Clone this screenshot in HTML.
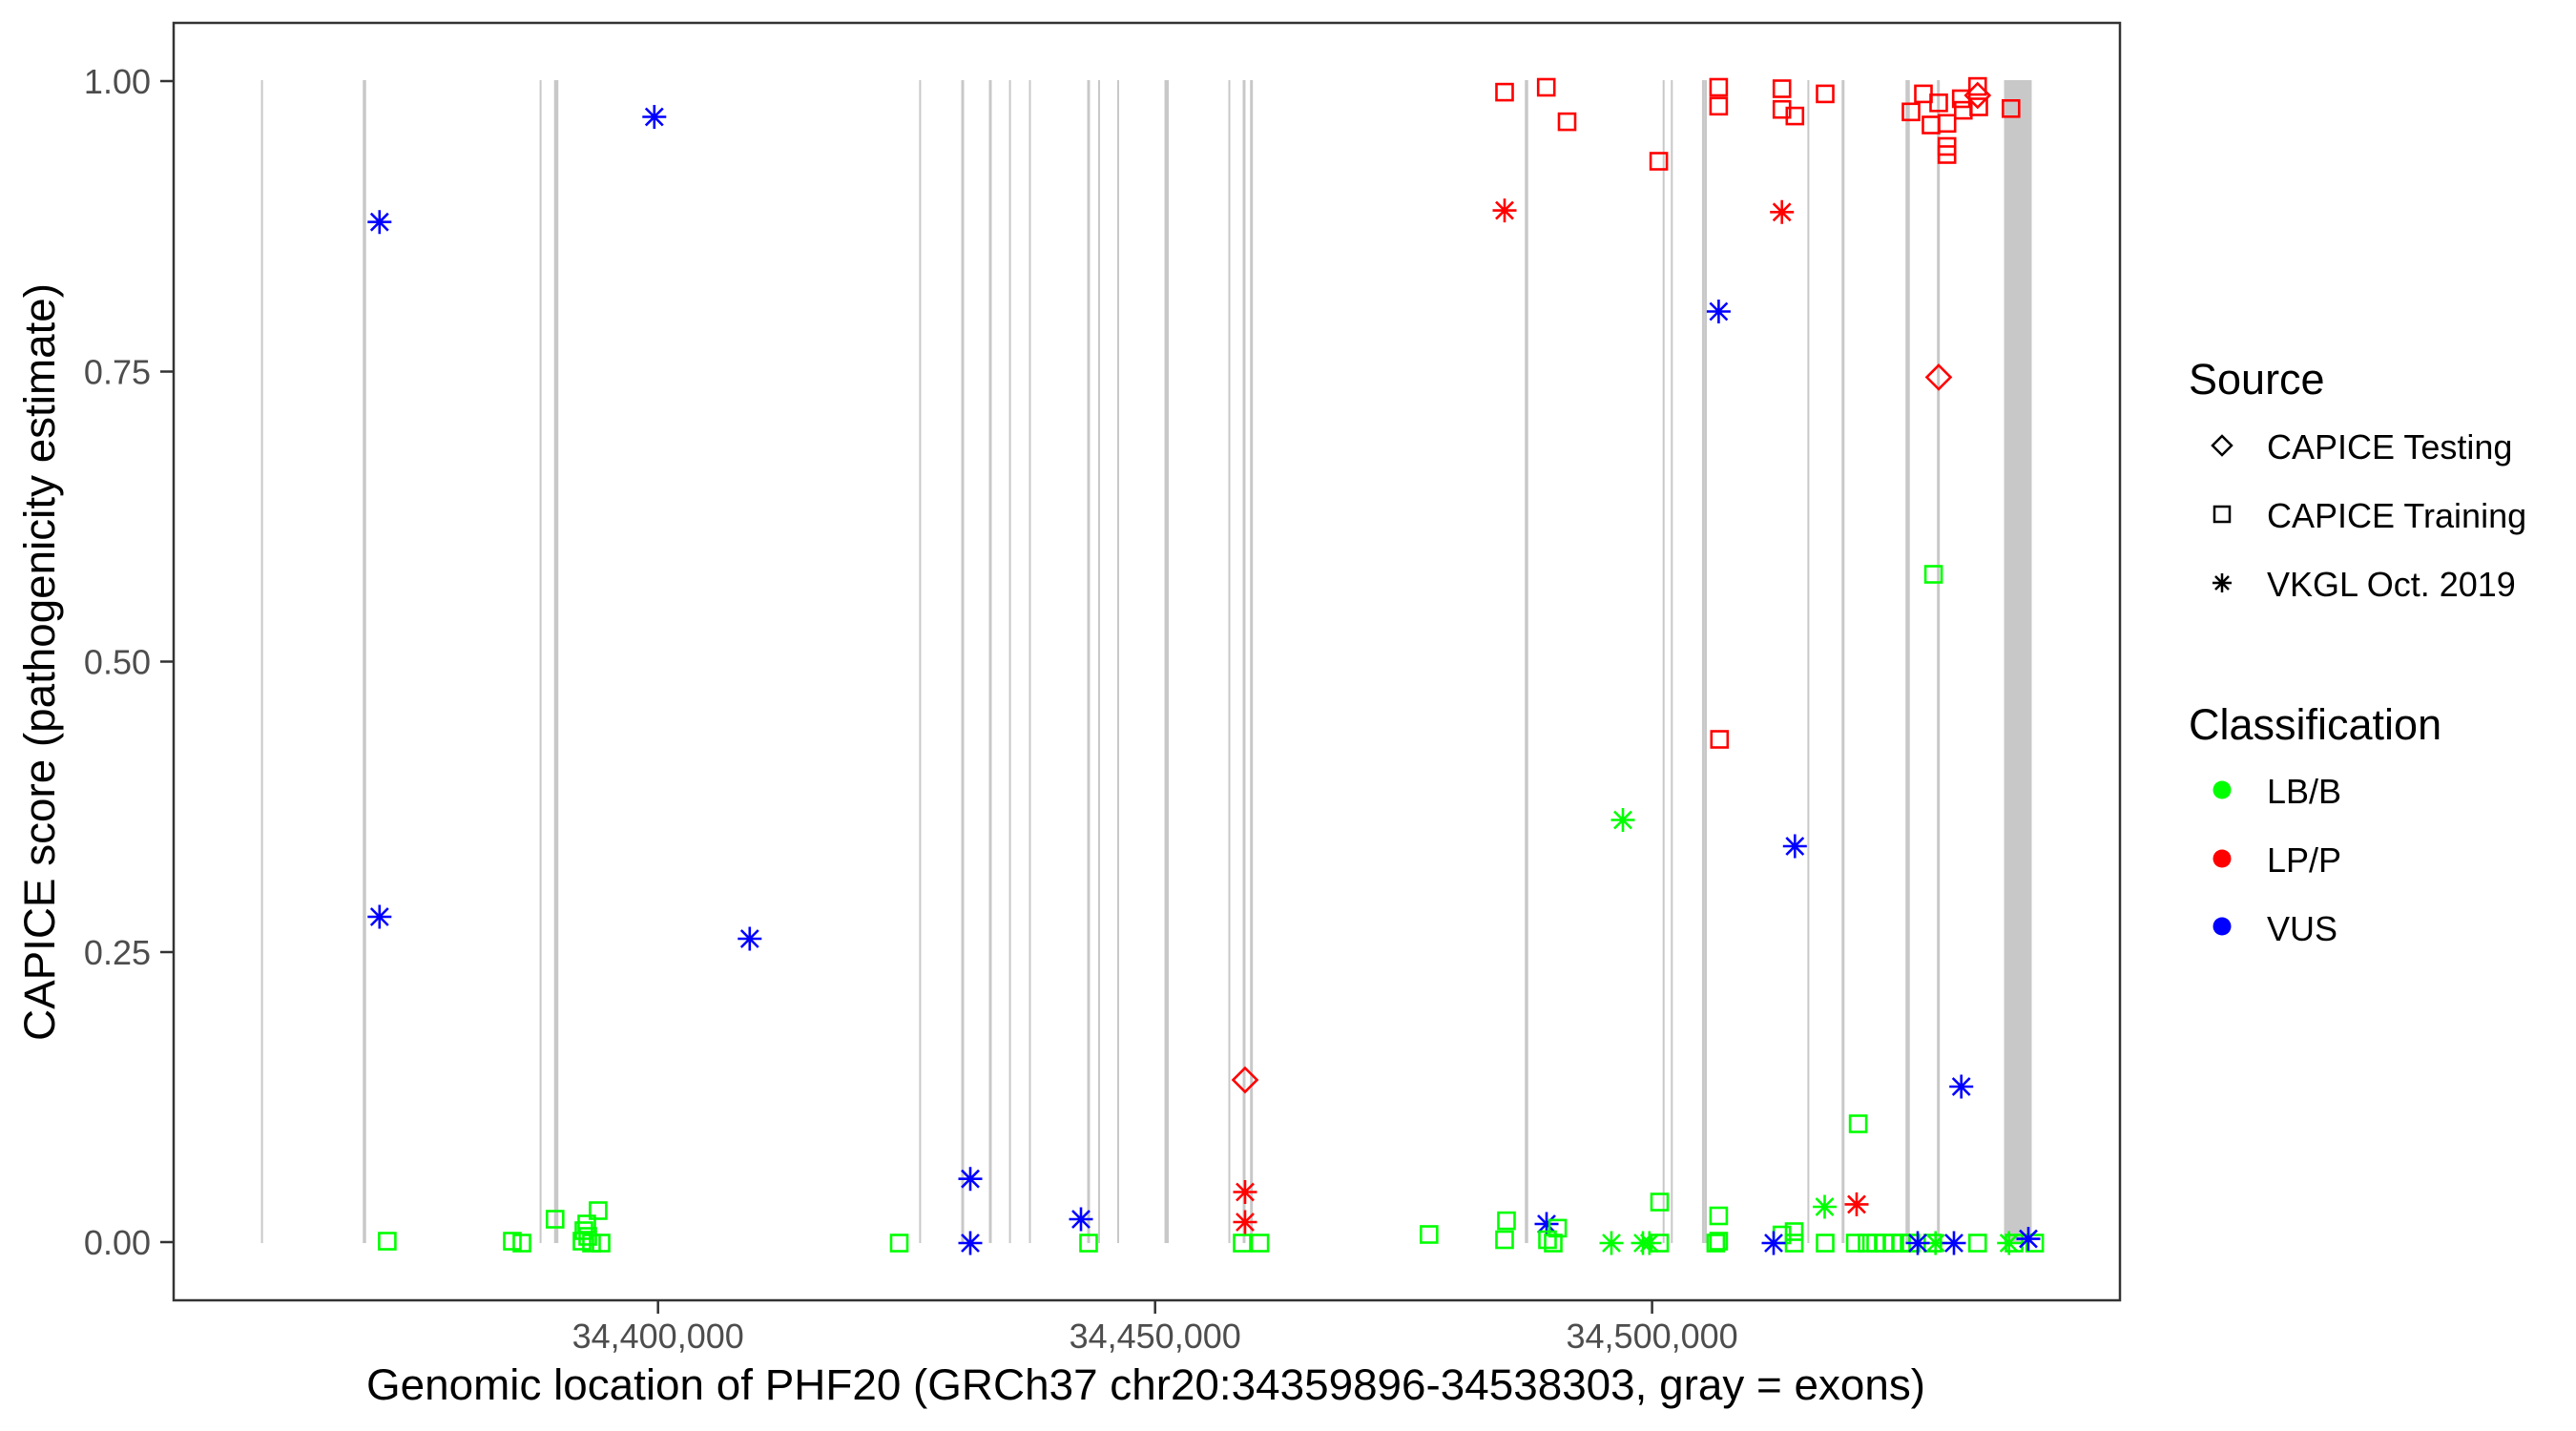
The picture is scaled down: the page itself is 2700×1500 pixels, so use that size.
<!DOCTYPE html>
<html><head><meta charset="utf-8"><style>
html,body{margin:0;padding:0;background:#fff;}
svg{display:block;font-family:"Liberation Sans",Arial,sans-serif;}
</style></head><body>
<svg width="2700" height="1500" viewBox="0 0 2700 1500" xmlns="http://www.w3.org/2000/svg">
<defs>
<rect id="sq" x="-8.5" y="-8.5" width="17" height="17" fill="none" stroke="currentColor" stroke-width="2.6"/>
<path id="st" d="M-12.5 0H12.5M0 -12.5V12.5M-9 -9L9 9M-9 9L9 -9" fill="none" stroke="currentColor" stroke-width="2.6"/>
<path id="dm" d="M0 -12.5L12.5 0L0 12.5L-12.5 0Z" fill="none" stroke="currentColor" stroke-width="2.6"/>
</defs>
<rect width="2700" height="1500" fill="#fff"/>
<g stroke="#c8c8c8" fill="none">
<line x1="274.6" y1="84" x2="274.6" y2="1303" stroke-width="2"/>
<line x1="382" y1="84" x2="382" y2="1303" stroke-width="3.5"/>
<line x1="566.6" y1="84" x2="566.6" y2="1303" stroke-width="2"/>
<line x1="583" y1="84" x2="583" y2="1303" stroke-width="4.5"/>
<line x1="964.4" y1="84" x2="964.4" y2="1303" stroke-width="2"/>
<line x1="1009" y1="84" x2="1009" y2="1303" stroke-width="3"/>
<line x1="1038" y1="84" x2="1038" y2="1303" stroke-width="3"/>
<line x1="1058.6" y1="84" x2="1058.6" y2="1303" stroke-width="2"/>
<line x1="1079.5" y1="84" x2="1079.5" y2="1303" stroke-width="2"/>
<line x1="1141" y1="84" x2="1141" y2="1303" stroke-width="3"/>
<line x1="1152" y1="84" x2="1152" y2="1303" stroke-width="2"/>
<line x1="1172" y1="84" x2="1172" y2="1303" stroke-width="2"/>
<line x1="1222.8" y1="84" x2="1222.8" y2="1303" stroke-width="4.5"/>
<line x1="1288.5" y1="84" x2="1288.5" y2="1303" stroke-width="2"/>
<line x1="1304" y1="84" x2="1304" y2="1303" stroke-width="3"/>
<line x1="1311.7" y1="84" x2="1311.7" y2="1303" stroke-width="3"/>
<line x1="1600" y1="84" x2="1600" y2="1303" stroke-width="3.5"/>
<line x1="1743.7" y1="84" x2="1743.7" y2="1303" stroke-width="2"/>
<line x1="1752.3" y1="84" x2="1752.3" y2="1303" stroke-width="2"/>
<line x1="1785.2" y1="84" x2="1785.2" y2="1303" stroke-width="2.5"/>
<line x1="1787.8" y1="84" x2="1787.8" y2="1303" stroke-width="2.5"/>
<line x1="1895.4" y1="84" x2="1895.4" y2="1303" stroke-width="2"/>
<line x1="1931.8" y1="84" x2="1931.8" y2="1303" stroke-width="3"/>
<line x1="1999.5" y1="84" x2="1999.5" y2="1303" stroke-width="4.5"/>
<line x1="2031.7" y1="84" x2="2031.7" y2="1303" stroke-width="3"/>
</g>
<rect x="2100.5" y="84" width="29" height="1219" fill="#c8c8c8"/>
<g color="#0000ff">
<use href="#st" x="397.8" y="232.7"/><use href="#st" x="397.8" y="961"/><use href="#st" x="685.8" y="122.5"/><use href="#st" x="785.8" y="984"/>
<use href="#st" x="1017" y="1235.7"/><use href="#st" x="1017" y="1303"/><use href="#st" x="1133" y="1278"/>
<use href="#st" x="1801.4" y="326.5"/><use href="#st" x="1881.3" y="887"/><use href="#st" x="2055.7" y="1139"/><use href="#st" x="1621" y="1283"/>
</g>
<g color="#00ff00">
<use href="#sq" x="405.9" y="1301"/><use href="#sq" x="537" y="1301"/><use href="#sq" x="547" y="1303"/><use href="#sq" x="581.8" y="1278"/>
<use href="#sq" x="626.9" y="1269"/><use href="#sq" x="615" y="1283"/><use href="#sq" x="612" y="1290"/><use href="#sq" x="610" y="1301"/>
<use href="#sq" x="620" y="1303"/><use href="#sq" x="630" y="1303"/><use href="#sq" x="616" y="1296"/>
<use href="#sq" x="942.5" y="1303"/><use href="#sq" x="1141" y="1303"/><use href="#sq" x="1302" y="1303"/><use href="#sq" x="1320.6" y="1303"/><use href="#sq" x="1497.8" y="1294"/>
<use href="#sq" x="1579" y="1279.6"/><use href="#sq" x="1577" y="1299.5"/><use href="#sq" x="1622" y="1299.5"/><use href="#sq" x="1632.6" y="1287.4"/><use href="#sq" x="1628" y="1303"/>
<use href="#sq" x="1739.5" y="1260"/><use href="#sq" x="1739.5" y="1303"/><use href="#sq" x="1801.4" y="1274.5"/><use href="#sq" x="1801.4" y="1301"/><use href="#sq" x="1798.4" y="1303"/>
<use href="#sq" x="2026.6" y="602"/><use href="#sq" x="1947.6" y="1178"/><use href="#sq" x="1880.5" y="1291"/><use href="#sq" x="1880.5" y="1303"/><use href="#sq" x="1867.7" y="1294.5"/>
<use href="#sq" x="1913" y="1303"/><use href="#sq" x="1944.6" y="1303"/><use href="#sq" x="1957" y="1303"/><use href="#sq" x="1966" y="1303"/><use href="#sq" x="1975" y="1303"/>
<use href="#sq" x="1984" y="1303"/><use href="#sq" x="1993" y="1303"/><use href="#sq" x="2003" y="1303"/><use href="#sq" x="2025.8" y="1303"/><use href="#sq" x="2072.8" y="1303"/>
<use href="#sq" x="2111" y="1303"/><use href="#sq" x="2132.6" y="1303"/>
<use href="#st" x="1701" y="859.5"/><use href="#st" x="1912.5" y="1265"/><use href="#st" x="1689" y="1303"/><use href="#st" x="1722" y="1303"/><use href="#st" x="1728.8" y="1303"/>
<use href="#st" x="2028.7" y="1303"/><use href="#st" x="2105.7" y="1303"/>
</g>
<g color="#0000ff">
<use href="#st" x="1859" y="1303"/><use href="#st" x="2010" y="1303"/><use href="#st" x="2048" y="1303"/><use href="#st" x="2126" y="1298.6"/>
</g>
<g color="#ff0000">
<use href="#dm" x="1305" y="1132"/><use href="#st" x="1305" y="1249.5"/><use href="#st" x="1305" y="1281"/>
<use href="#sq" x="1577" y="96.6"/><use href="#sq" x="1620.7" y="91.5"/><use href="#sq" x="1642.5" y="127.6"/><use href="#sq" x="1738.6" y="169"/>
<use href="#sq" x="1801.4" y="91.5"/><use href="#sq" x="1801.4" y="111.3"/><use href="#sq" x="1867.7" y="93"/><use href="#sq" x="1867.7" y="114.7"/>
<use href="#sq" x="1881.3" y="121.6"/><use href="#sq" x="1913" y="98.4"/><use href="#sq" x="2003" y="117.3"/><use href="#sq" x="2016" y="98.4"/>
<use href="#sq" x="2032" y="107.8"/><use href="#sq" x="2024" y="131"/><use href="#sq" x="2040.7" y="129.3"/><use href="#sq" x="2040.7" y="153.5"/>
<use href="#sq" x="2040.7" y="162"/><use href="#sq" x="2055.7" y="103.5"/><use href="#sq" x="2057.8" y="115.6"/><use href="#sq" x="2072.8" y="90.6"/>
<use href="#sq" x="2074" y="112"/><use href="#sq" x="2107.8" y="113.8"/><use href="#sq" x="1802.3" y="775"/>
<use href="#dm" x="2072.8" y="100"/><use href="#dm" x="2032" y="395.4"/>
<use href="#st" x="1577" y="220.6"/><use href="#st" x="1867.7" y="222.3"/><use href="#st" x="1946" y="1262.4"/>
</g>
<rect x="182" y="24" width="2040" height="1339" fill="none" stroke="#333" stroke-width="2.5"/>
<g stroke="#333" stroke-width="2.5">
<line x1="168" y1="85" x2="182" y2="85"/><line x1="168" y1="389.5" x2="182" y2="389.5"/><line x1="168" y1="693.5" x2="182" y2="693.5"/><line x1="168" y1="998" x2="182" y2="998"/><line x1="168" y1="1302" x2="182" y2="1302"/>
<line x1="689.7" y1="1363" x2="689.7" y2="1377"/><line x1="1210.7" y1="1363" x2="1210.7" y2="1377"/><line x1="1731.6" y1="1363" x2="1731.6" y2="1377"/>
</g>
<g font-size="36" fill="#4d4d4d" text-anchor="end">
<text x="158" y="98">1.00</text><text x="158" y="402.5">0.75</text><text x="158" y="706.5">0.50</text><text x="158" y="1011">0.25</text><text x="158" y="1315">0.00</text>
</g>
<g font-size="36" fill="#4d4d4d" text-anchor="middle">
<text x="689.7" y="1413">34,400,000</text><text x="1210.7" y="1413">34,450,000</text><text x="1731.6" y="1413">34,500,000</text>
</g>
<text x="1201" y="1467" font-size="45" text-anchor="middle" textLength="1634" lengthAdjust="spacingAndGlyphs">Genomic location of PHF20 (GRCh37 chr20:34359896-34538303, gray = exons)</text>
<text transform="translate(57,694) rotate(-90)" font-size="45" text-anchor="middle" textLength="794" lengthAdjust="spacingAndGlyphs">CAPICE score (pathogenicity estimate)</text>
<text x="2294" y="413" font-size="45">Source</text>
<path d="M2329 457L2339 467L2329 477L2319 467Z" fill="none" stroke="#000" stroke-width="2.5"/>
<rect x="2321" y="531" width="16" height="16" fill="none" stroke="#000" stroke-width="2.5"/>
<path d="M2319 611H2339M2329 601V621M2322 604L2336 618M2322 618L2336 604" fill="none" stroke="#000" stroke-width="2.5"/>
<g font-size="36">
<text x="2376" y="481">CAPICE Testing</text>
<text x="2376" y="553">CAPICE Training</text>
<text x="2376" y="625">VKGL Oct. 2019</text>
</g>
<text x="2294" y="775" font-size="45">Classification</text>
<circle cx="2329" cy="828" r="9.5" fill="#00ff00"/>
<circle cx="2329" cy="900" r="9.5" fill="#ff0000"/>
<circle cx="2329" cy="971" r="9.5" fill="#0000ff"/>
<g font-size="36">
<text x="2376" y="842">LB/B</text>
<text x="2376" y="914">LP/P</text>
<text x="2376" y="986">VUS</text>
</g>
</svg>
</body></html>
